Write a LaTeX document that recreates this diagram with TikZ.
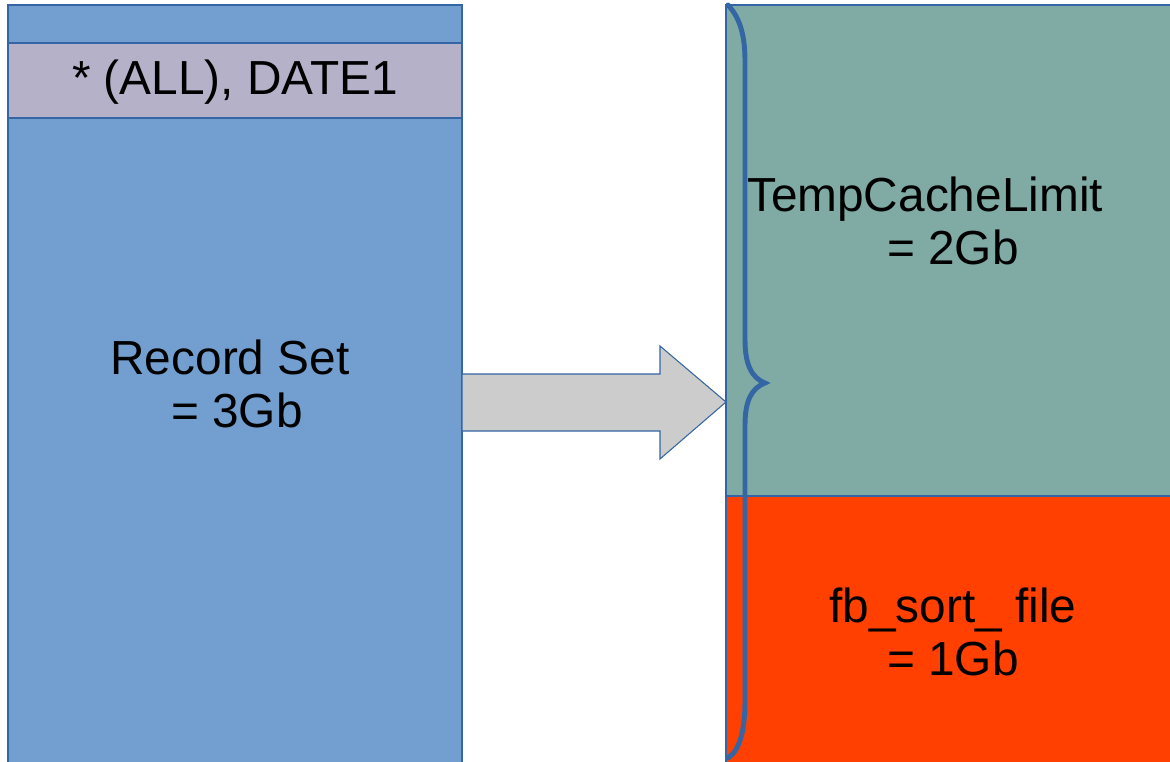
\documentclass[tikz,border=0pt]{standalone}
\usepackage{fontspec}
\setmainfont{Liberation Sans}
\usetikzlibrary{positioning}
\definecolor{lineblue}{HTML}{3465A4}
\definecolor{setblue}{HTML}{729FCF}
\definecolor{headgrey}{HTML}{B4B1C9}
\definecolor{cacheteal}{HTML}{80ABA5}
\definecolor{sortred}{HTML}{FF4000}
\definecolor{arrowgrey}{HTML}{CCCCCC}

\begin{document}
\begin{tikzpicture}[x=0.02cm,y=-0.02cm,every node/.style={font=\fontsize{27.2}{30.4}\selectfont,align=center,inner sep=0pt},part/.style={draw=lineblue,line width=0.6pt}]
\useasboundingbox (0,0) rectangle (1170,761);
% left: record set with header band
\fill[part,fill=setblue] (8,5) rectangle (462,775);
\fill[part,fill=headgrey] (8,43) rectangle (462,118);
\node (hd) at (235,82) {* (ALL), DATE1};
\node (rs) at (230,384) {Record Set\\\hspace*{0.28cm}= 3Gb};
% right: cache and sort file
\fill[part,fill=cacheteal] (726,5) rectangle (1180,496);
\fill[part,fill=sortred] (726,496) rectangle (1180,775);
\node (tc) at (925,221) {TempCacheLimit\\\hspace*{1.12cm}= 2Gb};
\node (fb) at (953,632) {fb\_sort\_ file\\= 1Gb};
% big arrow
\filldraw[part,fill=arrowgrey] (462,374) -- (660,374) -- (660,346) -- (726,402) -- (660,459) -- (660,431) -- (462,431) -- cycle;
% brace
\draw[lineblue,line width=2.8pt,line cap=round] (728,5) .. controls (742,20) and (745,40) .. (745,62) -- (745,340) .. controls (745,365) and (752,378) .. (765,383) .. controls (752,388) and (745,400) .. (745,425) -- (745,700) .. controls (745,730) and (740,750) .. (728,758);
\end{tikzpicture}
\end{document}
